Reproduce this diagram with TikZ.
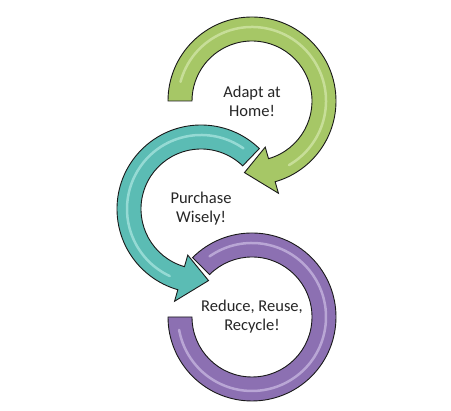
\documentclass[tikz,border=0pt]{standalone}
\usepackage{fontspec}
\setmainfont{Carlito}
\usepackage{xcolor}
\usepackage{tikz}
\usetikzlibrary{
    calc,
    positioning
}
\definecolor{ringgreen}{HTML}{A6C766}
\definecolor{ringgreenlight}{HTML}{D6E9AE}
\definecolor{ringteal}{HTML}{5BBCB4}
\definecolor{ringteallight}{HTML}{AEE8E2}
\definecolor{ringpurple}{HTML}{8C70B2}
\definecolor{ringpurplelight}{HTML}{CDBDE4}
\definecolor{ringedge}{HTML}{1A1A1A}
\tikzset{
    % Ring band
    ringband/.style={
        draw=ringedge,
        fill=#1,
        line width=0.9pt,
        line join=miter
    },
    ringband/.default=ringgreen,
    % Gloss stripe along a band
    ringgloss/.style={
        draw=#1,
        line width=2.5pt,
        line cap=round,
        opacity=0.7
    },
    ringgloss/.default=white,
    % Label inside a ring
    ringlabel/.style={
        font=\fontsize{16.5}{19}\selectfont,
        text=black!85,
        align=center,
        inner sep=2pt
    }
}

\begin{document}
\begin{tikzpicture}
    \fill[white] (0,0) rectangle (451pt,411pt);
    \useasboundingbox (0,0) rectangle (451pt,411pt);

    \coordinate (gc) at (252pt,310pt);
    \coordinate (tc) at (201pt,202pt);
    \coordinate (pc) at (252pt,94pt);

    % Adapt ring
    \begin{scope}[shift={(gc)}]
        \filldraw[ringband=ringgreen] (180:84pt) arc[start angle=180, end angle=-74, radius=84pt]
            -- (-74:96pt) -- (-96:72pt) -- (-74:48pt) -- (-74:60pt)
            arc[start angle=-74, end angle=180, radius=60pt] -- cycle;
        \draw[ringgloss=ringgreenlight] (165:74pt) arc[start angle=165, end angle=-60, radius=74pt];
    \end{scope}

    % Purchase ring
    \begin{scope}[shift={(tc)}]
        \filldraw[ringband=ringteal] (46:84pt) arc[start angle=46, end angle=254, radius=84pt]
            -- (254:96pt) -- (276:72pt) -- (254:48pt) -- (254:60pt)
            arc[start angle=254, end angle=46, radius=60pt] -- cycle;
        \draw[ringgloss=ringteallight] (55:74pt) arc[start angle=55, end angle=245, radius=74pt];
    \end{scope}

    % Reduce ring
    \begin{scope}[shift={(pc)}]
        \filldraw[ringband=ringpurple] (135:84pt) arc[start angle=135, end angle=-180, radius=84pt]
            -- (180:60pt) arc[start angle=-180, end angle=135, radius=60pt] -- cycle;
        \draw[ringgloss=ringpurplelight] (125:74pt) arc[start angle=125, end angle=-170, radius=74pt];
    \end{scope}

    \node[ringlabel] (adapt) at (gc) {Adapt at\\Home!};
    \node[ringlabel] (purchase) at (tc) {Purchase\\Wisely!};
    \node[ringlabel] (reduce) at (pc) {Reduce, Reuse,\\Recycle!};
\end{tikzpicture}
\end{document}
